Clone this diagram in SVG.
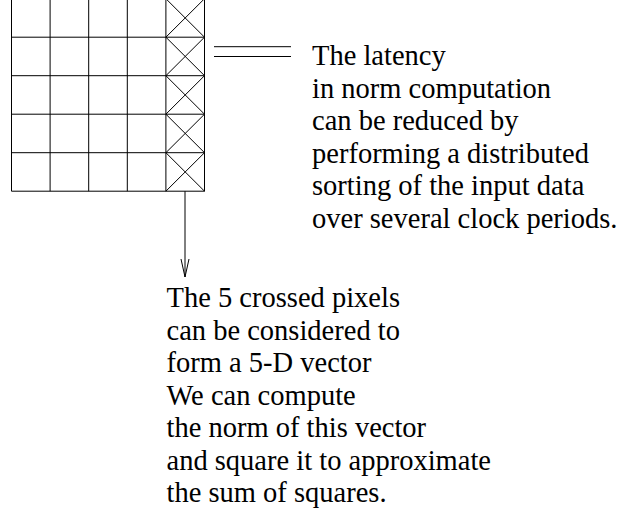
<svg xmlns="http://www.w3.org/2000/svg" width="635" height="514" viewBox="0 0 635 514">
<style>
.ln{stroke:#000;stroke-width:1;fill:none}
.tx{font-family:"Liberation Serif","Times New Roman",serif;font-size:28.5px;fill:#000}
</style>
<defs>
<marker id="arr" markerUnits="userSpaceOnUse" markerWidth="22" markerHeight="12" viewBox="-1 -6 22 12" refX="18" refY="0" orient="auto">
<path d="M0,-4 L18,0 L0,4" stroke="#000" stroke-width="1" fill="none"/>
</marker>
</defs>
<rect width="635" height="514" fill="#fff"/>
<g id="grid" class="ln">
<path d="M11.5,-1.3V191.2M50.1,-1.3V191.2M88.7,-1.3V191.2M127.3,-1.3V191.2M165.9,-1.3V191.2M204.5,-1.3V191.2"/>
<path d="M11.5,-1.3H204.5M11.5,37.2H204.5M11.5,75.7H204.5M11.5,114.2H204.5M11.5,152.7H204.5M11.5,191.2H204.5"/>
<path d="M165.9,-1.3L204.5,37.2M204.5,-1.3L165.9,37.2M165.9,37.2L204.5,75.7M204.5,37.2L165.9,75.7M165.9,75.7L204.5,114.2M204.5,75.7L165.9,114.2M165.9,114.2L204.5,152.7M204.5,114.2L165.9,152.7M165.9,152.7L204.5,191.2M204.5,152.7L165.9,191.2"/>
</g>
<g id="connectors" class="ln">
<path d="M214,46.7H291M214,56.5H291"/>
<path d="M185,191.2V277" marker-end="url(#arr)"/>
</g>
<g id="note-latency">
<text class="tx" x="312" y="65">The latency</text>
<text class="tx" x="312" y="97.5">in norm computation</text>
<text class="tx" x="312" y="130">can be reduced by</text>
<text class="tx" x="312" y="162.5">performing a distributed</text>
<text class="tx" x="312" y="195">sorting of the input data</text>
<text class="tx" x="312" y="227.5">over several clock periods.</text>
</g>
<g id="note-vector">
<text class="tx" x="166.5" y="307">The 5 crossed pixels</text>
<text class="tx" x="166.5" y="339.5">can be considered to</text>
<text class="tx" x="166.5" y="372">form a 5-D vector</text>
<text class="tx" x="166.5" y="404.5">We can compute</text>
<text class="tx" x="166.5" y="437">the norm of this vector</text>
<text class="tx" x="166.5" y="469.5">and square it to approximate</text>
<text class="tx" x="166.5" y="502">the sum of squares.</text>
</g>
</svg>
